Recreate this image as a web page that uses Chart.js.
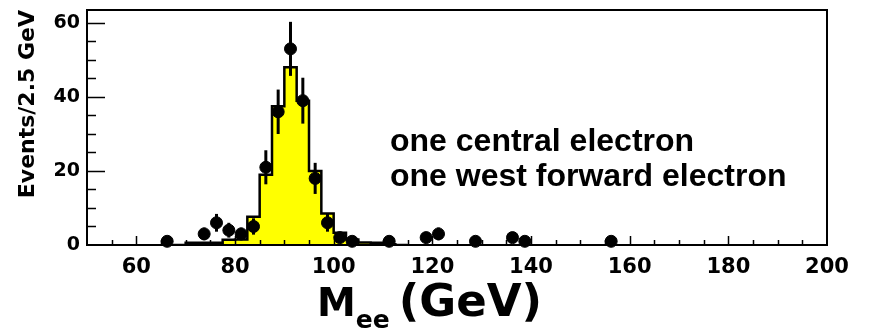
<!DOCTYPE html>
<html>
<head>
<meta charset="utf-8">
<script src="https://cdn.jsdelivr.net/npm/chart.js@4.4.1/dist/chart.umd.min.js"></script>
<style>
  html, body { margin: 0; padding: 0; background: #fff; }
  #wrap { width: 869px; height: 333px; }
</style>
</head>
<body>
<div id="wrap"><canvas id="myChart"></canvas></div>
<script>
// simulation histogram, 2.5 GeV bins (bin centres)
const mcCentres = [68.75, 71.25, 73.75, 76.25, 78.75, 81.25, 83.75, 86.25, 88.75, 91.25,
                   93.75, 96.25, 98.75, 101.25, 103.75, 106.25, 108.75, 111.25, 113.75];
const mcEvents  = [0, 0.6, 0.6, 0.6, 1.4, 1.5, 7.6, 19, 37.5, 48,
                   39, 20, 8.5, 3.3, 1.5, 0.7, 0.6, 0.2, 0];
const binWidth = 2.5;

// data points
const dataMass   = [66.25, 73.75, 76.25, 78.75, 81.25, 83.75, 86.25, 88.75, 91.25, 93.75, 96.25,
                    98.75, 101.25, 103.75, 111.25, 118.75, 121.25, 128.75, 136.25, 138.75, 156.25];
const dataEvents = [1, 3, 6, 4, 3, 5, 21, 36, 53, 39, 18,
                    6, 2, 1, 1, 2, 3, 1, 2, 1, 1];
const dataErr    = [1, 1.7, 2.4, 2, 1.7, 2.2, 4.6, 6, 7.3, 6.2, 4.2,
                    2.4, 1.4, 1, 1, 1.4, 1.7, 1, 1.4, 1, 1];

const xTickLabels = [60, 80, 100, 120, 140, 160, 180, 200];
const yTickLabels = [0, 20, 40, 60];

const histPoints = mcCentres.map((c, i) => ({ x: c - binWidth / 2, y: mcEvents[i] }));
histPoints.push({ x: mcCentres[mcCentres.length - 1] + binWidth / 2, y: mcEvents[mcEvents.length - 1] });

const dataPoints = dataMass.map((m, i) => ({ x: m, y: dataEvents[i] }));

const FONT = '"DejaVu Sans", sans-serif';
const HELV = '"Liberation Sans", Arial, sans-serif';

const decorations = {
  id: 'decorations',
  afterDatasetsDraw(chart) {
    const { ctx, scales: { x, y } } = chart;
    ctx.save();
    ctx.strokeStyle = '#000';
    ctx.lineWidth = 3;
    dataMass.forEach((m, i) => {
      const px = x.getPixelForValue(m);
      ctx.beginPath();
      ctx.moveTo(px, y.getPixelForValue(dataEvents[i] - dataErr[i]));
      ctx.lineTo(px, y.getPixelForValue(dataEvents[i] + dataErr[i]));
      ctx.stroke();
    });
    ctx.restore();
  },
  afterDraw(chart) {
    const { ctx, chartArea: a, scales: { x, y } } = chart;
    ctx.save();
    ctx.strokeStyle = '#000';
    ctx.lineWidth = 2;
    ctx.strokeRect(a.left, a.top, a.right - a.left, a.bottom - a.top);

    // ticks inside the frame
    ctx.lineWidth = 1.5;
    ctx.beginPath();
    for (let v = 5; v <= 60; v += 5) {
      const py = Math.round(y.getPixelForValue(v)) + 0.5;
      const len = v % 20 === 0 ? 18 : 9;
      ctx.moveTo(a.left, py);
      ctx.lineTo(a.left + len, py);
    }
    for (let v = 55; v < 200; v += 5) {
      const px = Math.round(x.getPixelForValue(v)) + 0.5;
      const len = v % 20 === 0 ? 9 : 5;
      ctx.moveTo(px, a.bottom);
      ctx.lineTo(px, a.bottom - len);
    }
    ctx.stroke();

    // labels
    ctx.fillStyle = '#000';
    ctx.textBaseline = 'alphabetic';
    ctx.textAlign = 'left';
    ctx.font = 'bold 32px ' + HELV;
    ctx.fillText('one central electron', 390, 151);
    ctx.fillText('one west forward electron', 390, 186);

    // axis title M_ee (GeV)
    let tx = 317;
    const ty = 316;
    ctx.font = 'bold 39px ' + FONT;
    ctx.fillText('M', tx, ty);
    tx += ctx.measureText('M').width;
    ctx.font = 'bold 25px ' + FONT;
    ctx.fillText('ee', tx, ty + 12);
    tx += ctx.measureText('ee').width + 9;
    ctx.font = 'bold 45px ' + FONT;
    ctx.fillText('(GeV)', tx, ty);
    ctx.restore();
  }
};

const ctx = document.getElementById('myChart');

new Chart(ctx, {
  type: 'line',
  plugins: [decorations],
  data: {
    datasets: [{
      label: 'data',
      data: dataPoints,
      showLine: false,
      pointRadius: 6,
      pointHoverRadius: 6,
      pointBackgroundColor: '#000',
      pointBorderColor: '#000',
      pointBorderWidth: 1,
      clip: false,
      order: 0
    }, {
      label: 'MC',
      data: histPoints,
      stepped: true,
      fill: 'origin',
      backgroundColor: '#ffff00',
      borderColor: '#000',
      borderWidth: 2.5,
      pointRadius: 0,
      order: 1
    }]
  },
  options: {
    responsive: true,
    maintainAspectRatio: false,
    animation: false,
    events: [],
    layout: { padding: { top: 10, right: 42, left: 0, bottom: 0 } },
    plugins: {
      legend: { display: false },
      tooltip: { enabled: false }
    },
    scales: {
      x: {
        type: 'linear',
        min: 50,
        max: 200,
        grid: { display: false, drawTicks: false },
        border: { display: false },
        afterBuildTicks: (s) => { s.ticks = xTickLabels.map(v => ({ value: v })); },
        afterFit: (s) => { s.height = 88; s.paddingLeft = 0; s.paddingRight = 0; },
        ticks: {
          padding: 10,
          maxRotation: 0,
          color: '#000',
          font: { family: FONT, size: 21, weight: 'bold' }
        }
      },
      y: {
        min: 0,
        max: 63.5,
        grid: { display: false, drawTicks: false },
        border: { display: false },
        afterBuildTicks: (s) => { s.ticks = yTickLabels.map(v => ({ value: v })); },
        afterFit: (s) => { s.width = 87; s.paddingTop = 0; s.paddingBottom = 0; },
        ticks: {
          padding: 7,
          color: '#000',
          font: { family: FONT, size: 19, weight: 'bold' }
        },
        title: {
          display: true,
          text: 'Events/2.5 GeV',
          align: 'end',
          color: '#000',
          padding: { top: 15 },
          font: { family: FONT, size: 22, weight: 'bold' }
        }
      }
    }
  }
});
</script>
</body>
</html>
